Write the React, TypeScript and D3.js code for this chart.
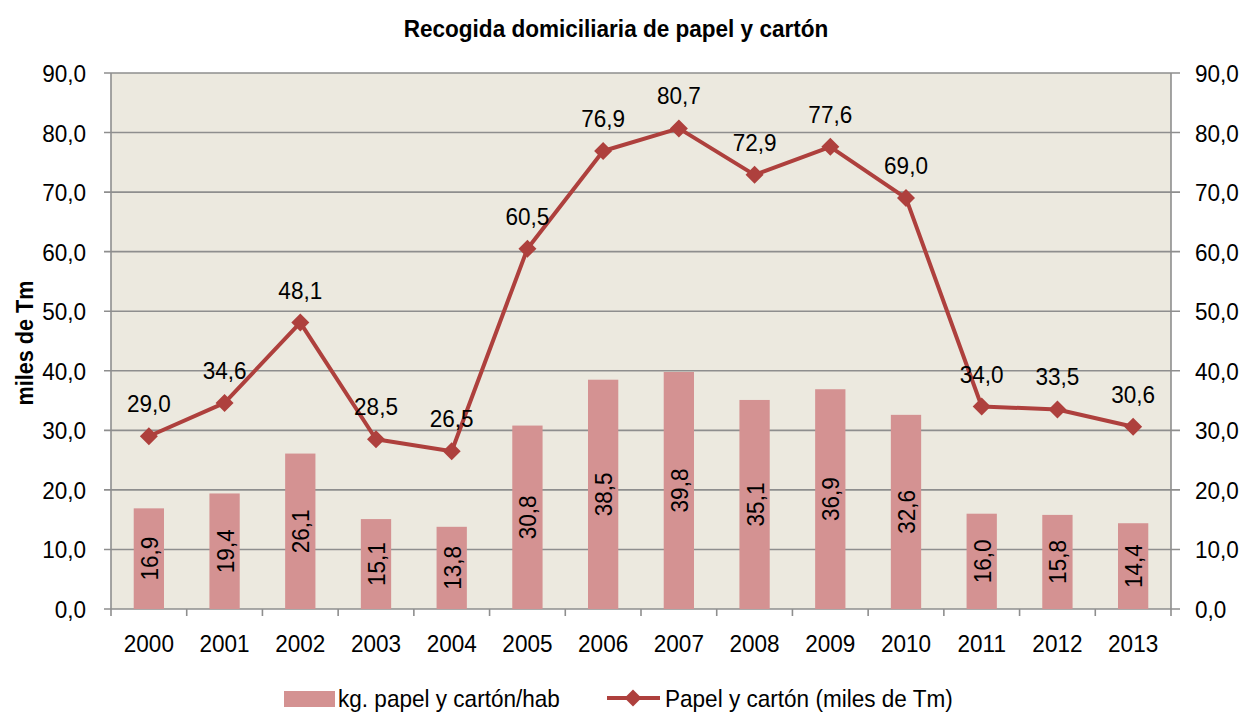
import * as d3 from "d3";
import React from "react";

const years = ["2000", "2001", "2002", "2003", "2004", "2005", "2006", "2007", "2008", "2009", "2010", "2011", "2012", "2013"];
const kgHab = [16.9, 19.4, 26.1, 15.1, 13.8, 30.8, 38.5, 39.8, 35.1, 36.9, 32.6, 16.0, 15.8, 14.4];
const milesTm = [29.0, 34.6, 48.1, 28.5, 26.5, 60.5, 76.9, 80.7, 72.9, 77.6, 69.0, 34.0, 33.5, 30.6];
const yTicks = [0, 10, 20, 30, 40, 50, 60, 70, 80, 90];

const W = 1243;
const H = 713;
const plot = { left: 111, right: 1171, top: 73, bottom: 609 };

const font = "'Liberation Sans', Arial, sans-serif";
const fmt = (v: number) => v.toFixed(1).replace(".", ",");

const barColor = "#d49292";
const lineColor = "#ae403d";
const gridColor = "#8e8e8e";

// narrow-looking text: glyphs squeezed horizontally like the original
const NText = ({
  x,
  y,
  children,
  anchor = "start",
  size = 24.5,
  sx = 0.92,
  rotate = 0,
  bold = false,
}: {
  x: number;
  y: number;
  children: React.ReactNode;
  anchor?: string;
  size?: number;
  sx?: number;
  rotate?: number;
  bold?: boolean;
}) => (
  <text
    transform={`translate(${x},${y}) rotate(${rotate}) scale(${sx},1)`}
    textAnchor={anchor}
    fontSize={size}
    fontWeight={bold ? "bold" : "normal"}
    fill="#000"
  >
    {children}
  </text>
);

const App = () => {
  const x = d3.scaleBand().domain(years).range([plot.left, plot.right]).paddingInner(0.6).paddingOuter(0.3);
  const xb = d3.scaleBand().domain(years).range([plot.left, plot.right]);
  const y = d3.scaleLinear().domain([0, 90]).range([plot.bottom, plot.top]);

  const cx = (i: number) => (xb(years[i]) as number) + xb.bandwidth() / 2;
  const line = d3
    .line<number>()
    .x((_, i) => cx(i))
    .y((d) => y(d));

  const diamond = (px: number, py: number, r: number) =>
    `M${px},${py - r}L${px + r},${py}L${px},${py + r}L${px - r},${py}Z`;

  const boundaries = years.map((yr) => xb(yr) as number).concat([plot.right]);

  return (
    <svg
      width={W}
      height={H}
      style={{ position: "absolute", left: 0, top: 0, background: "#fff" }}
      fontFamily={font}
    >
      <NText x={616} y={37} anchor="middle" size={23} sx={0.98} bold>
        Recogida domiciliaria de papel y cartón
      </NText>

      {/* plot background */}
      <rect
        x={plot.left}
        y={plot.top}
        width={plot.right - plot.left}
        height={plot.bottom - plot.top}
        fill="#ece9df"
      />

      {/* gridlines + ticks */}
      {yTicks.map((t) => (
        <g key={t}>
          <line x1={plot.left - 7} x2={plot.right + 9} y1={y(t)} y2={y(t)} stroke={gridColor} strokeWidth={1.6} />
          <NText x={86} y={y(t) + 9} anchor="end">
            {fmt(t)}
          </NText>
          <NText x={1195} y={y(t) + 9}>
            {fmt(t)}
          </NText>
        </g>
      ))}
      <line x1={plot.left} x2={plot.left} y1={plot.top} y2={plot.bottom} stroke={gridColor} strokeWidth={1.6} />
      <line x1={plot.right} x2={plot.right} y1={plot.top} y2={plot.bottom} stroke={gridColor} strokeWidth={1.6} />
      {boundaries.map((bx, i) => (
        <line key={i} x1={bx} x2={bx} y1={plot.bottom} y2={plot.bottom + 7} stroke={gridColor} strokeWidth={1.6} />
      ))}

      {/* x labels */}
      {years.map((yr, i) => (
        <NText key={yr} x={cx(i)} y={652} anchor="middle">
          {yr}
        </NText>
      ))}

      {/* bars */}
      {kgHab.map((v, i) => (
        <rect
          key={i}
          x={x(years[i])}
          y={y(v)}
          width={x.bandwidth()}
          height={plot.bottom - y(v)}
          fill={barColor}
        />
      ))}
      {kgHab.map((v, i) => (
        <NText key={i} x={cx(i) + 9} y={(y(v) + plot.bottom) / 2} anchor="middle" rotate={-90}>
          {fmt(v)}
        </NText>
      ))}

      {/* line */}
      <path d={line(milesTm) as string} fill="none" stroke={lineColor} strokeWidth={4} strokeLinejoin="round" />
      {milesTm.map((v, i) => (
        <path key={i} d={diamond(cx(i), y(v), 9)} fill={lineColor} />
      ))}
      {milesTm.map((v, i) => (
        <NText key={i} x={cx(i)} y={y(v) - 24} anchor="middle">
          {fmt(v)}
        </NText>
      ))}

      {/* y axis title */}
      <NText x={33} y={343} anchor="middle" rotate={-90} size={24} sx={0.9} bold>
        miles de Tm
      </NText>

      {/* legend */}
      <rect x={284} y={691} width={51} height={16} fill={barColor} />
      <NText x={338} y={707} size={24} sx={0.94}>
        kg. papel y cartón/hab
      </NText>
      <line x1={607} x2={660} y1={698} y2={698} stroke={lineColor} strokeWidth={4} />
      <path d={diamond(633, 698, 8.5)} fill={lineColor} />
      <NText x={665} y={707} size={24} sx={0.94}>
        Papel y cartón (miles de Tm)
      </NText>
    </svg>
  );
};

export default App;
